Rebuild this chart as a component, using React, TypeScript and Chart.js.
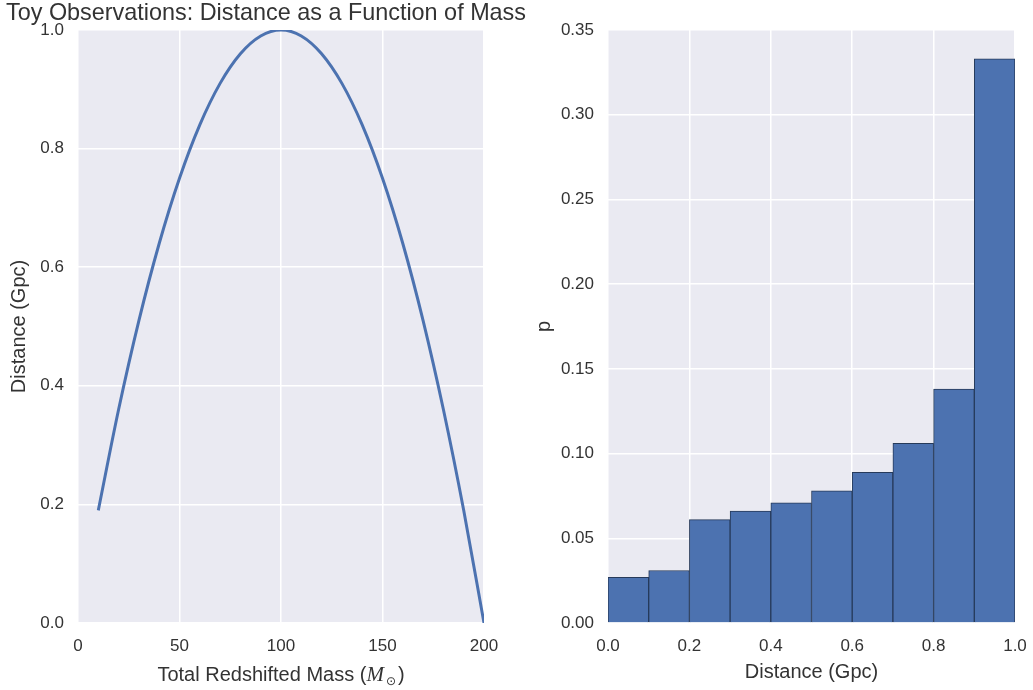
import React, { useEffect, useRef } from "react";
import { Chart, registerables } from "chart.js";

Chart.register(...registerables);

// Left panel: distance vs. total redshifted mass
const massValues = [10, 20, 30, 40, 50, 60, 70, 80, 90, 100, 110, 120, 130, 140, 150, 160, 170, 180, 190, 200];
const distanceValues = [0.19, 0.36, 0.51, 0.64, 0.75, 0.84, 0.91, 0.96, 0.99, 1.0, 0.99, 0.96, 0.91, 0.84, 0.75, 0.64, 0.51, 0.36, 0.19, 0.0];

// Right panel: histogram of distance
const binCenters = [0.05, 0.15, 0.25, 0.35, 0.45, 0.55, 0.65, 0.75, 0.85, 0.95];
const binProbabilities = [0.027, 0.031, 0.061, 0.066, 0.071, 0.078, 0.089, 0.106, 0.138, 0.333];

const titleText = "Toy Observations: Distance as a Function of Mass";
const leftXLabelParts = ["Total Redshifted Mass (", "M", "⊙", ")"];
const leftYLabel = "Distance (Gpc)";
const rightXLabel = "Distance (Gpc)";
const rightYLabel = "p";

const FONT = "'Liberation Sans', Arial, sans-serif";
const TEXT = "#333333";
const BG = "#EAEAF2";
const BLUE = "#4C72B0";

const bgPlugin = {
  id: "plotBg",
  beforeDraw(chart: any) {
    const { ctx, chartArea } = chart;
    if (!chartArea) return;
    ctx.save();
    ctx.fillStyle = BG;
    ctx.fillRect(chartArea.left, chartArea.top, chartArea.right - chartArea.left, chartArea.bottom - chartArea.top);
    ctx.restore();
  },
};

// Suptitle over the left panel and mathtext-style x label (M with subscript sun symbol)
const leftTextPlugin = {
  id: "leftText",
  afterDraw(chart: any) {
    const { ctx, chartArea } = chart;
    ctx.save();
    ctx.fillStyle = TEXT;
    ctx.textBaseline = "alphabetic";
    ctx.textAlign = "center";
    ctx.font = `23.4px ${FONT}`;
    ctx.fillText(titleText, 266, 20);

    const fonts = [
      `20px ${FONT}`,
      `italic 21px 'Liberation Serif', 'DejaVu Serif', serif`,
      `12px 'DejaVu Sans', sans-serif`,
      `20px ${FONT}`,
    ];
    const dys = [0, 0, 4, 0];
    const gaps = [0, 0, 2, 2];
    ctx.textAlign = "left";
    let total = 0;
    const widths = leftXLabelParts.map((t, i) => {
      ctx.font = fonts[i];
      const w = ctx.measureText(t).width + gaps[i];
      total += w;
      return w;
    });
    let x = (chartArea.left + chartArea.right) / 2 - total / 2;
    const baseY = 681;
    leftXLabelParts.forEach((t, i) => {
      ctx.font = fonts[i];
      ctx.fillText(t, x + gaps[i], baseY + dys[i]);
      x += widths[i];
    });
    ctx.restore();
  },
};

export default function App() {
  const leftRef = useRef<HTMLCanvasElement | null>(null);
  const rightRef = useRef<HTMLCanvasElement | null>(null);

  useEffect(() => {
    const tickFont = { family: FONT, size: 17 };
    const titleFont = { family: FONT, size: 20 };
    const grid = { color: "#FFFFFF", lineWidth: 1.5, drawTicks: false };

    const left = new Chart(leftRef.current as HTMLCanvasElement, {
      type: "line",
      data: {
        datasets: [
          {
            data: massValues.map((m, i) => ({ x: m, y: distanceValues[i] })),
            borderColor: BLUE,
            borderWidth: 3,
            pointRadius: 0,
            fill: false,
            cubicInterpolationMode: "monotone",
          },
        ],
      },
      options: {
        responsive: false,
        animation: false,
        layout: { padding: { left: 0, right: 48, top: 30, bottom: 0 } },
        plugins: {
          legend: { display: false },
          tooltip: { enabled: false },
          title: { display: false },
        },
        scales: {
          x: {
            type: "linear",
            min: 0,
            max: 200,
            ticks: { stepSize: 50, color: TEXT, font: tickFont, padding: 13, maxRotation: 0 },
            grid,
            border: { display: false },
            title: { display: false },
            afterFit(scale: any) {
              scale.height = 67;
              scale.paddingLeft = 0;
              scale.paddingRight = 0;
            },
          },
          y: {
            type: "linear",
            min: 0,
            max: 1,
            ticks: {
              stepSize: 0.2,
              color: TEXT,
              font: tickFont,
              padding: 14,
              callback: (v: any) => Number(v).toFixed(1),
            },
            grid,
            border: { display: false },
            title: { display: true, text: leftYLabel, color: TEXT, font: titleFont, padding: { top: 7, bottom: 0 } },
            afterFit(scale: any) {
              scale.width = 78;
              scale.paddingTop = 0;
              scale.paddingBottom = 0;
            },
          },
        },
      },
      plugins: [bgPlugin, leftTextPlugin],
    } as any);

    const right = new Chart(rightRef.current as HTMLCanvasElement, {
      type: "bar",
      data: {
        datasets: [
          {
            data: binCenters.map((c, i) => ({ x: c, y: binProbabilities[i] })),
            backgroundColor: BLUE,
            borderColor: "#263A5A",
            borderWidth: 1,
            barPercentage: 1,
            categoryPercentage: 1,
          },
        ],
      },
      options: {
        responsive: false,
        animation: false,
        layout: { padding: { left: 0, right: 18, top: 30, bottom: 0 } },
        plugins: {
          legend: { display: false },
          tooltip: { enabled: false },
        },
        scales: {
          x: {
            type: "linear",
            min: 0,
            max: 1,
            offset: false,
            ticks: {
              stepSize: 0.2,
              color: TEXT,
              font: tickFont,
              padding: 13,
              maxRotation: 0,
              callback: (v: any) => Number(v).toFixed(1),
            },
            grid: { ...grid, offset: false },
            border: { display: false },
            title: { display: true, text: rightXLabel, color: TEXT, font: titleFont, padding: { top: 0, bottom: 6 } },
            afterFit(scale: any) {
              scale.height = 67;
              scale.paddingLeft = 0;
              scale.paddingRight = 0;
            },
          },
          y: {
            type: "linear",
            min: 0,
            max: 0.35,
            ticks: {
              stepSize: 0.05,
              color: TEXT,
              font: tickFont,
              padding: 14,
              callback: (v: any) => Number(v).toFixed(2),
            },
            grid,
            border: { display: false },
            title: { display: true, text: rightYLabel, color: TEXT, font: titleFont, padding: { top: 0, bottom: 0 } },
            afterFit(scale: any) {
              scale.width = 76;
              scale.paddingTop = 0;
              scale.paddingBottom = 0;
            },
          },
        },
      },
      plugins: [bgPlugin],
    } as any);

    return () => {
      left.destroy();
      right.destroy();
    };
  }, []);

  return (
    <div style={{ position: "absolute", left: 0, top: 0, width: 1033, height: 690, background: "#FFFFFF", overflow: "hidden" }}>
      <canvas ref={leftRef} width={532} height={690} style={{ position: "absolute", left: 0, top: 0 }} />
      <canvas ref={rightRef} width={501} height={690} style={{ position: "absolute", left: 532, top: 0 }} />
    </div>
  );
}
